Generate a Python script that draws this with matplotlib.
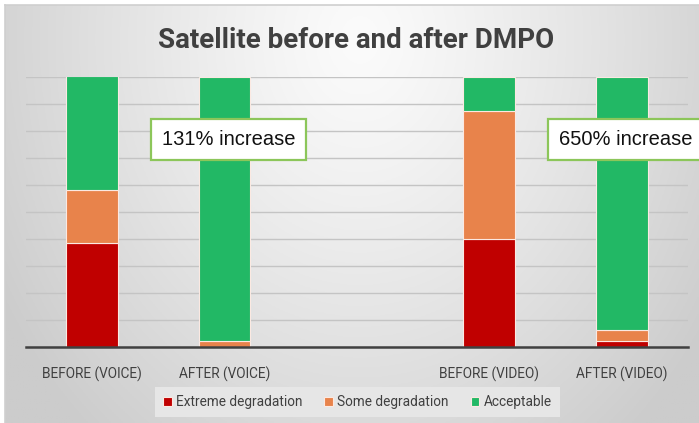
import matplotlib
matplotlib.use('Agg')
import matplotlib.pyplot as plt
import numpy as np

categories = ['BEFORE (VOICE)', 'AFTER (VOICE)', '', 'BEFORE (VIDEO)', 'AFTER (VIDEO)']
extreme = [38.5, 0.0, 0.0, 40.0, 2.3]
some = [19.5, 2.3, 0.0, 47.5, 4.0]
acceptable = [42.2, 97.7, 0.0, 12.5, 93.7]
series_names = ['Extreme degradation', 'Some degradation', 'Acceptable']
notes = ['131% increase', '650% increase']
note_at = [1, 4]

narrow = ['Liberation Sans Narrow', 'Roboto', 'DejaVu Sans']
arial = ['Liberation Sans', 'DejaVu Sans']

red = '#C00000'
orange = '#E8834B'
green = '#22B865'
dark = '#404040'

W, H = 699, 423
fig = plt.figure(figsize=(W / 100, H / 100), dpi=100, facecolor='white')

# gradient background of the chart area
bg = fig.add_axes([5 / W, 0, 1 - 5 / W, 1 - 5 / H], zorder=-2)
xx, yy = np.meshgrid(np.linspace(5, W, 300), np.linspace(5, H, 200))
d = np.sqrt(((xx - 360) / 420) ** 2 + ((yy - 40) / 520) ** 2)
t = np.clip(d, 0, 1) ** 1.2
c = 0.985 * (1 - t) + 0.80 * t
bg.imshow(np.dstack([c, c, c]), aspect='auto', extent=[0, 1, 0, 1], origin='upper')
bg.set_xlim(0, 1)
bg.set_ylim(0, 1)
for s in ['bottom', 'right']:
    bg.spines[s].set_visible(False)
for s in ['top', 'left']:
    bg.spines[s].set_color('#cfcfcf')
    bg.spines[s].set_linewidth(1.2)
bg.set_xticks([])
bg.set_yticks([])

ax = fig.add_axes([25.7 / W, 76 / H, (688 - 25.7) / W, 270 / H])
ax.set_facecolor('none')

x = np.arange(len(categories))
keep = np.array([c != '' for c in categories])
ext = np.array(extreme)
som = np.array(some)
acc = np.array(acceptable)
w = 0.39
edge = dict(edgecolor='#fbe9e2', linewidth=0.8, zorder=3)
ax.bar(x[keep], ext[keep], w, color=red, label=series_names[0], **edge)
ax.bar(x[keep], som[keep], w, bottom=ext[keep], color=orange, label=series_names[1], **edge)
ax.bar(x[keep], acc[keep], w, bottom=(ext + som)[keep], color=green, label=series_names[2], **edge)

ax.set_xlim(-0.5, 4.5)
ax.set_ylim(0, 100)
ax.set_yticks(np.arange(0, 101, 10))
ax.grid(axis='y', color='#c4c4c4', linewidth=1.0, zorder=0)
ax.set_axisbelow(True)
ax.tick_params(left=False, labelleft=False, bottom=False, pad=11)
ax.set_xticks(x)
ax.set_xticklabels(categories, fontsize=9.8, color=dark, family=narrow)
for s in ['top', 'left', 'right']:
    ax.spines[s].set_visible(False)
ax.spines['bottom'].set_color(dark)
ax.spines['bottom'].set_linewidth(1.8)
ax.spines['bottom'].set_zorder(4)

for txt, i in zip(notes, note_at):
    ax.text(i - 0.472, 76.9, txt, fontsize=14.5, family=arial, color='#111111',
            ha='left', va='center', zorder=6,
            bbox=dict(boxstyle='square,pad=0.55', facecolor='white',
                      edgecolor='#8CC65A', linewidth=1.6))

fig.text(356 / W, 1 - 40 / H, 'Satellite before and after DMPO', fontsize=20,
         fontweight='bold', color=dark, family=narrow, ha='center', va='center')

leg = fig.legend(loc='center', bbox_to_anchor=(357.5 / W, 1 - 402 / H), ncol=3,
                 frameon=True, fancybox=False, handlelength=0.6, handleheight=0.6,
                 handletextpad=0.35, columnspacing=1.6, borderpad=0.6,
                 prop={'family': narrow, 'size': 9.8})
leg.get_frame().set_facecolor('#e6e6e6')
leg.get_frame().set_edgecolor('none')
leg.get_frame().set_alpha(1)
for tx in leg.get_texts():
    tx.set_color(dark)

fig.savefig('out.png', dpi=100, facecolor='white')
